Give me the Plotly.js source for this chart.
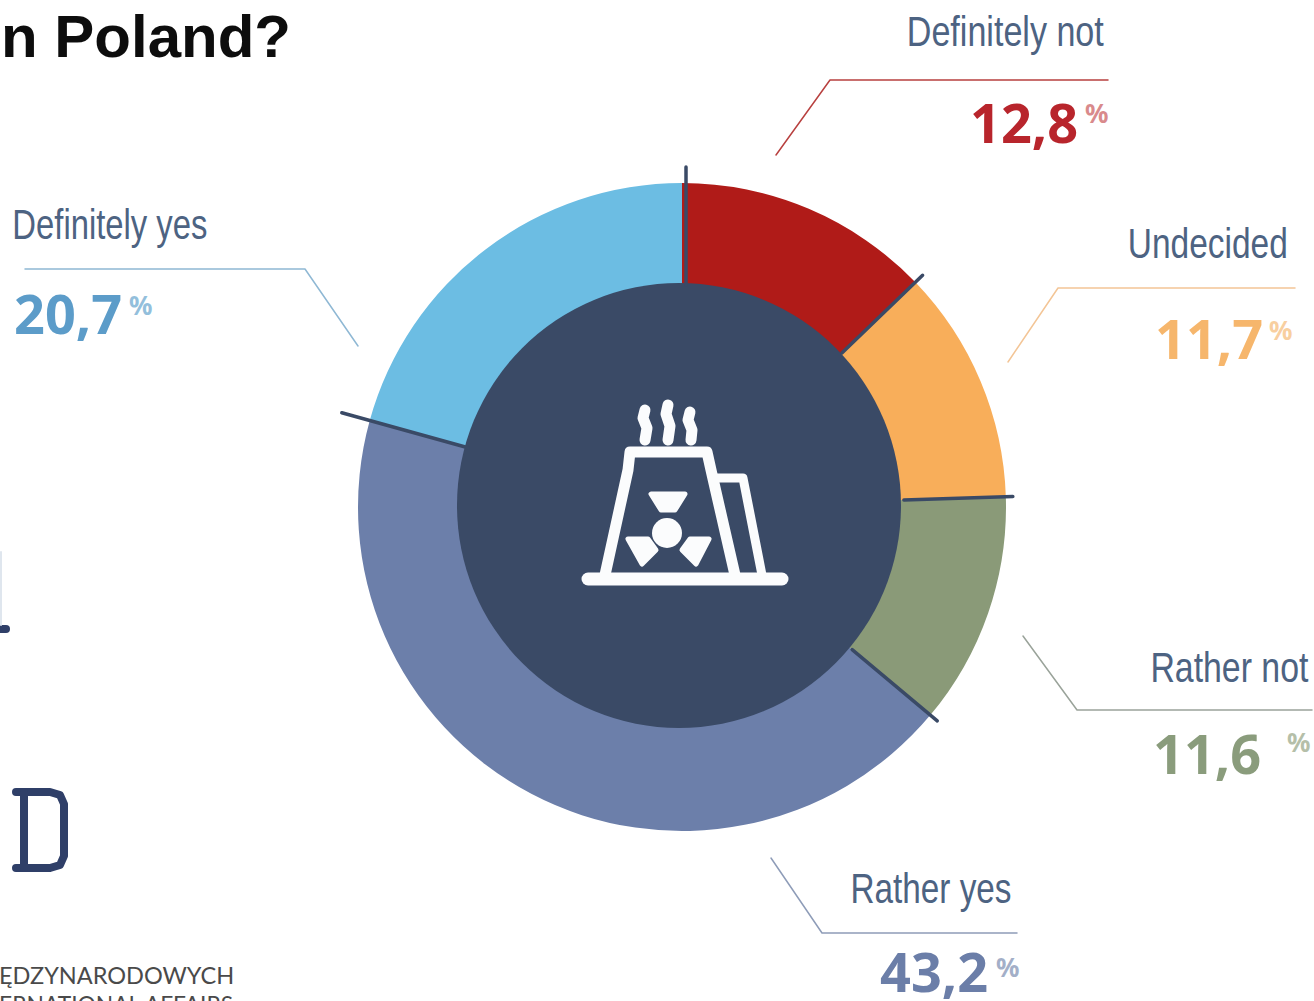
<!DOCTYPE html>
<html><head><meta charset="utf-8">
<script src="https://cdn.plot.ly/plotly-3.0.1.min.js"></script>
<style>html,body{margin:0;padding:0;background:#fff;overflow:hidden}#c{width:1314px;height:1001px}</style>
</head><body><div id="c"></div>
<script>
// ---- data ----
const categories = ["Definitely not","Undecided","Rather not","Rather yes","Definitely yes"];
const values = [12.8,11.7,11.6,43.2,20.7];
const valueTexts = ["12,8","11,7","11,6","43,2","20,7"];
const sliceColors = ["#b01b18","#f8ae5a","#8a9a78","#6c7faa","#6cbde3"];
const labelColor = "#4d6382";
const valueColors = ["#b8252c","#f6b66c","#8a9c7c","#6b7ea8","#5c9cc9"];
const percentColors = ["#d98a8c","#f8cfa0","#b5bfa9","#a3afc8","#93bfdc"];
const leaderColors = ["#b8403f","#f3c596","#9aa39a","#8e9cb8","#8fb8d4"];
const titleText = "n Poland?";
const footerLines = ["ĘDZYNARODOWYCH","ERNATIONAL AFFAIRS"];

// ---- layout helpers ----
const W=1314,H=1001;
const X=v=>v/W, Y=v=>1-v/H;
const cx=682,cy=507,R=324,RI=222;
const P=pts=>pts.map((p,i)=>(i?"L":"M")+X(p[0])+","+Y(p[1])).join("");
const labelPos=[[1005,31],[1208,243],[1229,667],[931,888],[110,224]];
const labelWidth=[197,160,158,161,195];
const valueEnd=[[1080,122],[1265,338],[1263,753],[990,971],[124,313]];
const percentStart=[[1083,113],[1267,330],[1285,742],[994,967],[127,305]];
const leaders=[
 [[776,155],[830,80],[1108,80]],
 [[1008,362],[1058,288],[1295,288]],
 [[1023,636],[1077,710],[1312,710]],
 [[771,858],[822,933],[1017,933]],
 [[358,346],[305,269],[25,269]]];
const sepRadius=[340,334,331,333,353]; // reach of the divider that opens each slice

const shapes=[];
const line=(pts,color,width)=>shapes.push({type:"path",xref:"paper",yref:"paper",path:P(pts),line:{color,width},fillcolor:"rgba(0,0,0,0)"});
const fill=(pts,color)=>shapes.push({type:"path",xref:"paper",yref:"paper",path:P(pts)+"Z",line:{color,width:5},fillcolor:color});

// centre disc
shapes.push({type:"circle",xref:"paper",yref:"paper",x0:X(457),x1:X(901),y0:Y(283),y1:Y(728),fillcolor:"#3a4a66",line:{width:0}});

// dividers follow the data
let acc=0;
const total=values.reduce((a,b)=>a+b,0);
values.forEach((v,i)=>{
  const a=acc/total*2*Math.PI; acc+=v;
  const ox=i===0?4:0;
  line([[cx+ox+RI*Math.sin(a),cy-RI*Math.cos(a)],[cx+ox+sepRadius[i]*Math.sin(a),cy-sepRadius[i]*Math.cos(a)]],"#3a4a66",3.5);
});
leaders.forEach((l,i)=>line(l,leaderColors[i],1.5));

// icon
const W1="#fbfcfd";
line([[588,579],[782,579]],W1,13);
line([[605,575],[628,470],[630,452],[707,452],[711,470],[735,575]],W1,11);
line([[717,478],[743,478],[762,575]],W1,9);
line([[645,410],[643,418],[647,428],[645,440]],W1,11);
line([[668,405],[666,414],[670,426],[668,440]],W1,11);
line([[690,412],[688,420],[692,430],[691,440]],W1,11);
fill([[651,494],[685,494],[675,510],[661,510]],W1);
fill([[628,539],[648,539],[656,550],[642,564]],W1);
fill([[709,539],[690,539],[682,550],[696,564]],W1);
shapes.push({type:"circle",xref:"paper",yref:"paper",x0:X(652),x1:X(682),y0:Y(518),y1:Y(548),fillcolor:W1,line:{width:0}});

// cropped logo fragments on the left
const navy="#2f3f68";
line([[16,792],[50,792],[60,795],[64,804],[64,856],[60,865],[50,868],[16,868]],navy,8);
line([[24,792],[24,868]],navy,8);
line([[0,629],[6,629]],navy,8);
line([[1,552],[1,625]],"#dfe6ee",2);

const ann=[];
const text=(t,x,y,size,color,family,anchor)=>ann.push({text:t,xref:"paper",yref:"paper",x:X(x),y:Y(y),xanchor:anchor||"center",yanchor:"middle",showarrow:false,font:{size,color,family}});
const sans="'Liberation Sans',sans-serif";
const bold=t=>"<b>"+t+"</b>";
categories.forEach((c,i)=>{
  text(c,labelPos[i][0],labelPos[i][1],43,labelColor,sans);
  text(bold(valueTexts[i]),valueEnd[i][0],valueEnd[i][1],54,valueColors[i],"'Noto Sans',sans-serif","right");
  text(bold("%"),percentStart[i][0],percentStart[i][1],26,percentColors[i],"'Noto Sans',sans-serif","left");
});
text(bold(titleText),-1,36,60,"#0d0d0d",sans,"left");
text(footerLines[0],-3,975,23.5,"#4a4a4a","Lato,sans-serif","left");
text(footerLines[1],-3,1004,22.8,"#4a4a4a","Lato,sans-serif","left");

Plotly.newPlot("c",[{
  type:"pie",labels:categories,values,sort:false,direction:"clockwise",rotation:0,hole:(RI-8)/R,
  marker:{colors:sliceColors,line:{width:0}},textinfo:"none",hoverinfo:"label+percent",
  domain:{x:[X(cx-R),X(cx+R)],y:[Y(cy+R),Y(cy-R)]}
}],{
  width:W,height:H,margin:{l:0,r:0,t:0,b:0},showlegend:false,
  paper_bgcolor:"#fff",plot_bgcolor:"#fff",shapes,annotations:ann
},{displayModeBar:false,staticPlot:true}).then(()=>{
  // the reference's labels are set in a condensed face: squeeze the real text to its width
  document.querySelectorAll(".annotation-text").forEach(el=>{
    const i=categories.indexOf(el.textContent);
    if(i>=0){el.setAttribute("textLength",labelWidth[i]);el.setAttribute("lengthAdjust","spacingAndGlyphs");}
  });
  document.querySelectorAll(".shapelayer path").forEach(p=>{p.style.strokeLinejoin="round";p.style.strokeLinecap="round";});
});
</script></body></html>
